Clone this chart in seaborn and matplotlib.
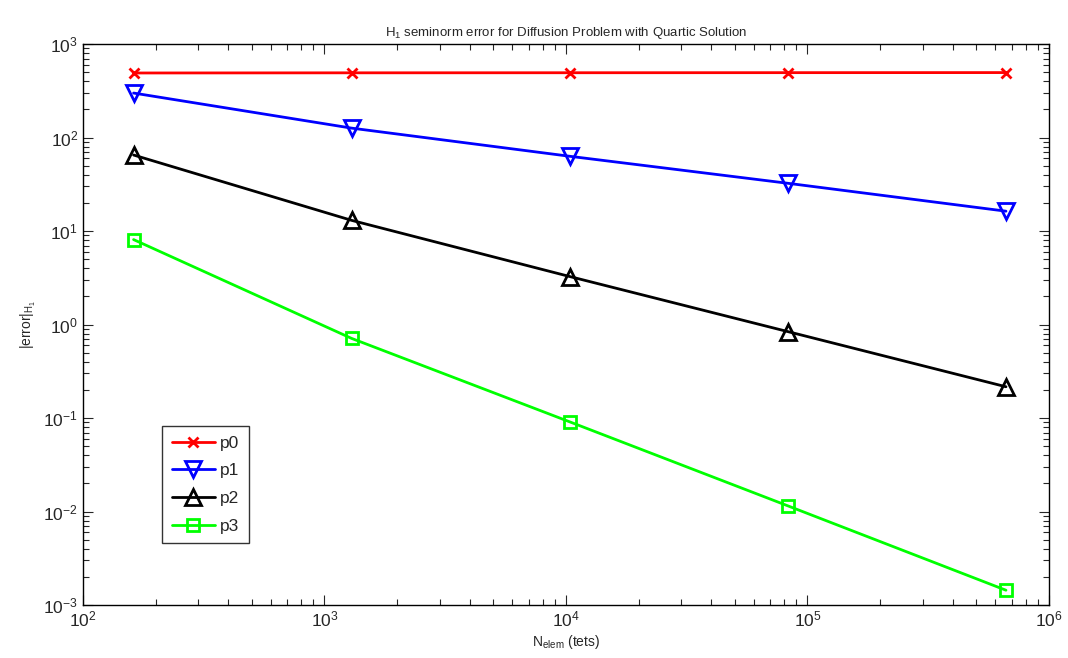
import numpy as np
import pandas as pd
import matplotlib
matplotlib.use("Agg")
import matplotlib.pyplot as plt
import seaborn as sns
from matplotlib.ticker import LogLocator, NullFormatter

n_elem = [162, 1296, 10368, 82944, 663552]
p0 = [490, 492, 493, 494, 495]
p1 = [299, 126, 63, 32.4, 16.3]
p2 = [65, 13, 3.26, 0.84, 0.216]
p3 = [8.1, 0.71, 0.091, 0.0115, 0.00144]
labels = ["p0", "p1", "p2", "p3"]

sns.set_style("ticks")
plt.rcParams['font.family'] = ['Liberation Sans', 'DejaVu Sans']
plt.rcParams['mathtext.fontset'] = 'custom'
plt.rcParams['mathtext.rm'] = 'Liberation Sans'
plt.rcParams['mathtext.it'] = 'Liberation Sans'

df = pd.DataFrame({
    "N": n_elem * 4,
    "err": p0 + p1 + p2 + p3,
    "series": sum([[l] * len(n_elem) for l in labels], []),
})

fig = plt.figure(figsize=(10.68, 6.58), dpi=100)
ax = fig.add_axes([0.0777, 0.0805, 0.9045, 0.8526])

styles = {
    "p0": dict(color="#ff0000", marker="x", ms=7, mew=2),
    "p1": dict(color="#0000ff", marker="v", ms=11, mew=2, mfc="none"),
    "p2": dict(color="#000000", marker="^", ms=11, mew=2, mfc="none"),
    "p3": dict(color="#00ff00", marker="s", ms=8, mew=2, mfc="none"),
}
for lab in labels:
    st = styles[lab]
    sub = df[df.series == lab]
    sns.lineplot(data=sub, x="N", y="err", ax=ax, label=lab, color=st["color"],
                 marker=st["marker"], markersize=st["ms"], markeredgewidth=st["mew"],
                 markerfacecolor=st.get("mfc", st["color"]), markeredgecolor=st["color"],
                 linewidth=2, estimator=None, sort=False)

ax.set_xscale("log")
ax.set_yscale("log")
ax.set_xlim(1e2, 1e6)
ax.set_ylim(1e-3, 1e3)
for axis in (ax.xaxis, ax.yaxis):
    axis.set_major_locator(LogLocator(base=10, numticks=20))
    axis.set_minor_locator(LogLocator(base=10, subs=np.arange(2, 10), numticks=20))
    axis.set_minor_formatter(NullFormatter())
ax.tick_params(which="both", direction="in", top=True, right=True, labelsize=12.5, width=0.8)
ax.tick_params(which="major", length=7)
ax.tick_params(which="minor", length=4)
for s in ax.spines.values():
    s.set_linewidth(1.0)
    s.set_color("black")

ax.set_title(r"H$_1$ seminorm error for Diffusion Problem with Quartic Solution", fontsize=9.5)
ax.set_xlabel(r"N$_{\mathrm{elem}}$ (tets)", fontsize=10, labelpad=2)
ax.set_ylabel(r"|error|$_{\mathrm{H}_1}$", fontsize=10)

leg = ax.legend(loc="lower left", bbox_to_anchor=(0.0818, 0.11), fontsize=12.5,
                frameon=True, fancybox=False, edgecolor="black", handlelength=2.5,
                borderaxespad=0, labelspacing=0.72, handletextpad=0.3, borderpad=0.55)
leg.get_frame().set_linewidth(1.0)

fig.savefig("out.png", dpi=100)
